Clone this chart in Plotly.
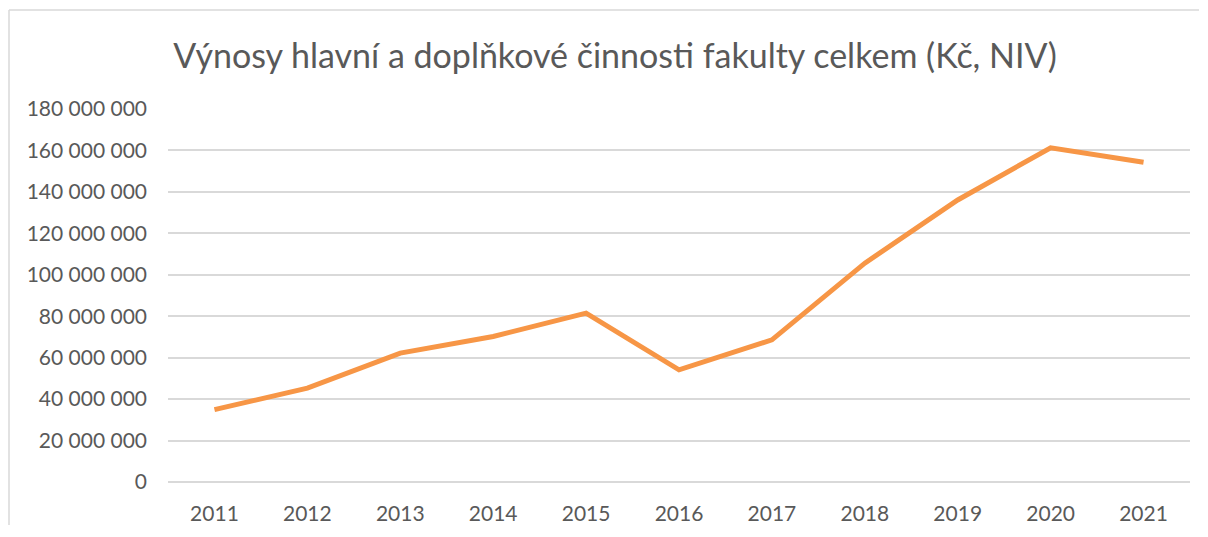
import plotly.graph_objects as go

years = ["2011", "2012", "2013", "2014", "2015", "2016", "2017", "2018", "2019", "2020", "2021"]
revenue = [34.9e6, 45.3e6, 62.2e6, 70.2e6, 81.5e6, 54.1e6, 68.6e6, 105.6e6, 136.1e6, 161.3e6, 154.3e6]
y_ticks = [0, 20e6, 40e6, 60e6, 80e6, 100e6, 120e6, 140e6, 160e6, 180e6]

title_text = "Výnosy hlavní a doplňkové činnosti fakulty celkem (Kč, NIV)"

fig = go.Figure()
fig.add_trace(go.Scatter(
    x=years, y=revenue, mode="lines",
    line=dict(color="#F79646", width=5),
    hoverinfo="x+y",
))

# page body has an 8px default margin on every side; keep the page inside the window
OFF = 8
W, H = 1208 - 2 * OFF, 537 - 2 * OFF - 4
L, T = 168 - OFF, 109 - OFF
R = (OFF + W) - 1190
B = (OFF + H) - 482
pw = W - L - R
ph = H - T - B

bx = (9 - OFF - L) / pw          # left border (paper coords)
by = (ph + T - (10 - OFF)) / ph  # top border (paper coords)

fig.update_layout(
    width=W, height=H,
    margin=dict(l=L, r=R, t=T, b=B, autoexpand=False),
    paper_bgcolor="white", plot_bgcolor="white",
    separators=", ",
    showlegend=False,
    title=dict(text=title_text, x=(615 - OFF) / W, xanchor="center",
               y=1 - (56 - OFF) / H, yanchor="middle",
               font=dict(family="Lato", size=34, color="#595959")),
    font=dict(family="Lato", color="#595959"),
    xaxis=dict(type="category", range=[-0.5, len(years) - 0.5], automargin=False,
               showgrid=False, zeroline=False, showline=False,
               ticks="", tickfont=dict(size=21, color="#595959"),
               ticklabelstandoff=17),
    yaxis=dict(range=[0, 180e6], tickvals=y_ticks, tickformat=",d", automargin=False,
               showgrid=True, gridcolor="#d9d9d9", gridwidth=1.5,
               zeroline=True, zerolinecolor="#d9d9d9", zerolinewidth=1.5,
               showline=False, ticks="", tickfont=dict(size=21, color="#595959"),
               ticklabelstandoff=20),
    shapes=[
        dict(type="line", xref="paper", yref="paper",
             x0=bx, x1=(W - L - 1) / pw, y0=by, y1=by,
             line=dict(color="#d9d9d9", width=1.5), layer="below"),
        dict(type="line", xref="paper", yref="paper",
             x0=bx, x1=bx, y0=by, y1=-(B + 20) / ph,
             line=dict(color="#d9d9d9", width=1.5), layer="below"),
    ],
)

fig.write_html("out.html")
